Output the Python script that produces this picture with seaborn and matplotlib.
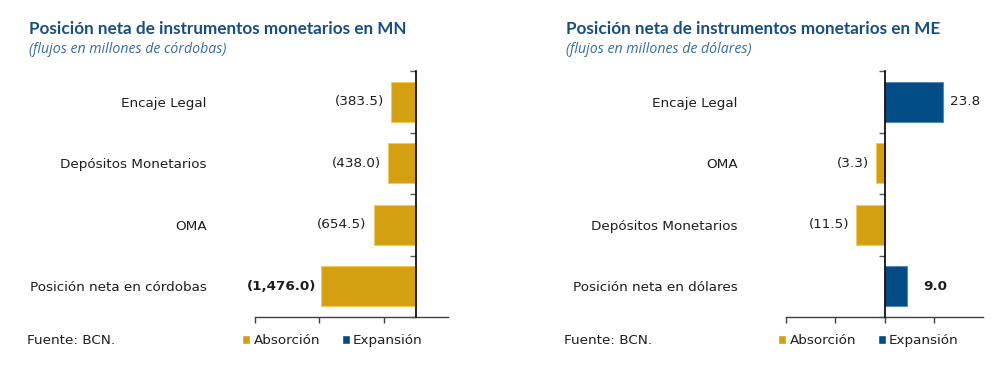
import matplotlib
matplotlib.use("Agg")
import matplotlib.pyplot as plt
from matplotlib.patches import Patch
import seaborn as sns

# --- data ---
cats_mn = ['Encaje Legal', 'Depósitos Monetarios', 'OMA', 'Posición neta en córdobas']
vals_mn = [-383.5, -438.0, -654.5, -1476.0]
xlim_mn = (-2500, 500)
xticks_mn = [-2500, -1500, -500]

cats_me = ['Encaje Legal', 'OMA', 'Depósitos Monetarios', 'Posición neta en dólares']
vals_me = [23.8, -3.3, -11.5, 9.0]
xlim_me = (-40, 40)
xticks_me = [-40, -20, 0, 20]

titles = ['Posición neta de instrumentos monetarios en MN',
          'Posición neta de instrumentos monetarios en ME']
subtitles = ['(flujos en millones de córdobas)', '(flujos en millones de dólares)']
levels = ['Absorción', 'Expansión']

GOLD = '#D4A011'
BLUE = '#004C87'
TITLE_C = '#1B4E80'
SUB_C = '#3A6D9E'
TXT = '#1E1E1E'
FS = 9.7

sns.set_theme(style='white')
plt.rcParams['font.family'] = ['DejaVu Sans']

fig = plt.figure(figsize=(10.08, 3.81), dpi=100)


def fmt(v):
    s = f'{abs(v):,.1f}'
    return f'({s})' if v < 0 else s


def panel(rect, cats, vals, xlim, xticks, x0, title, subtitle):
    ax = fig.add_axes(rect)
    kinds = [levels[0] if v < 0 else levels[1] for v in vals]
    sns.barplot(x=vals, y=cats, hue=kinds, hue_order=levels,
                palette=[GOLD, BLUE], dodge=False, orient='h',
                width=0.65, legend=False, ax=ax, saturation=1)
    for p in ax.patches:
        fc = p.get_facecolor()
        p.set_edgecolor('#F2CB55' if abs(fc[0] - 0.83) < 0.05 else '#5A86B4')
        p.set_linewidth(0.8)
    n = len(cats)
    ax.set_ylim(n - 0.5, -0.5)
    ax.set_xlim(*xlim)
    ax.set_xticks(xticks)
    ax.set_xticklabels([])
    ax.set_xlabel('')
    ax.set_ylabel('')
    for s in ['top', 'right', 'left']:
        ax.spines[s].set_visible(False)
    ax.spines['bottom'].set_color('#404040')
    ax.spines['bottom'].set_linewidth(1.0)
    ax.tick_params(axis='x', bottom=True, length=4, width=1, color='#404040')
    ax.tick_params(axis='y', left=False, length=0, pad=35, labelsize=FS,
                   labelcolor=TXT)

    # zero line with category separators
    tw = ax.twinx()
    tw.set_ylim(ax.get_ylim())
    tw.yaxis.set_ticks_position('left')
    tw.set_yticks([i - 0.5 for i in range(n + 1)])
    tw.set_yticklabels([])
    for s in ['top', 'right', 'bottom']:
        tw.spines[s].set_visible(False)
    tw.spines['left'].set_visible(True)
    tw.spines['left'].set_position(('data', 0))
    tw.spines['left'].set_color('black')
    tw.spines['left'].set_linewidth(1.2)
    tw.tick_params(axis='y', which='both', left=True, right=False,
                   direction='out', length=4, width=1, color='#555555')
    tw.grid(False)

    # value labels
    for i, v in enumerate(vals):
        bold = i == n - 1
        pad = (3 if v < 0 else 12) if bold else 5
        ax.annotate(fmt(v), (v, i), xytext=(-pad if v < 0 else pad, 0),
                    textcoords='offset points', va='center',
                    ha='right' if v < 0 else 'left', fontsize=FS,
                    fontweight='bold' if bold else 'normal', color=TXT)

    fig.text(x0, 0.945, title, fontsize=12.3, fontweight='bold', color=TITLE_C,
             family=['Lato', 'DejaVu Sans'], va='top')
    fig.text(x0, 0.89, subtitle, fontsize=10.2, style='italic', color=SUB_C,
             family=['Open Sans', 'DejaVu Sans'], va='top')
    fig.text(x0 - 0.002, 0.105, 'Fuente: BCN.', fontsize=FS, color=TXT, va='center')
    return ax


panel([255 / 1008, 1 - 317 / 381, 193 / 1008, 246 / 381],
      cats_mn, vals_mn, xlim_mn, xticks_mn, 29 / 1008, titles[0], subtitles[0])
panel([786 / 1008, 1 - 317 / 381, 197 / 1008, 246 / 381],
      cats_me, vals_me, xlim_me, xticks_me, 566 / 1008, titles[1], subtitles[1])

handles = [Patch(facecolor=GOLD, label=levels[0]), Patch(facecolor=BLUE, label=levels[1])]
for xa in [242 / 1008, 778 / 1008]:
    fig.legend(handles=handles, loc='center left', bbox_to_anchor=(xa, 0.105),
               ncol=2, frameon=False, fontsize=FS, handlelength=0.6,
               handleheight=0.7, handletextpad=0.25, columnspacing=1.6,
               borderaxespad=0, borderpad=0, labelcolor=TXT)

fig.savefig('out.png', dpi=100)
